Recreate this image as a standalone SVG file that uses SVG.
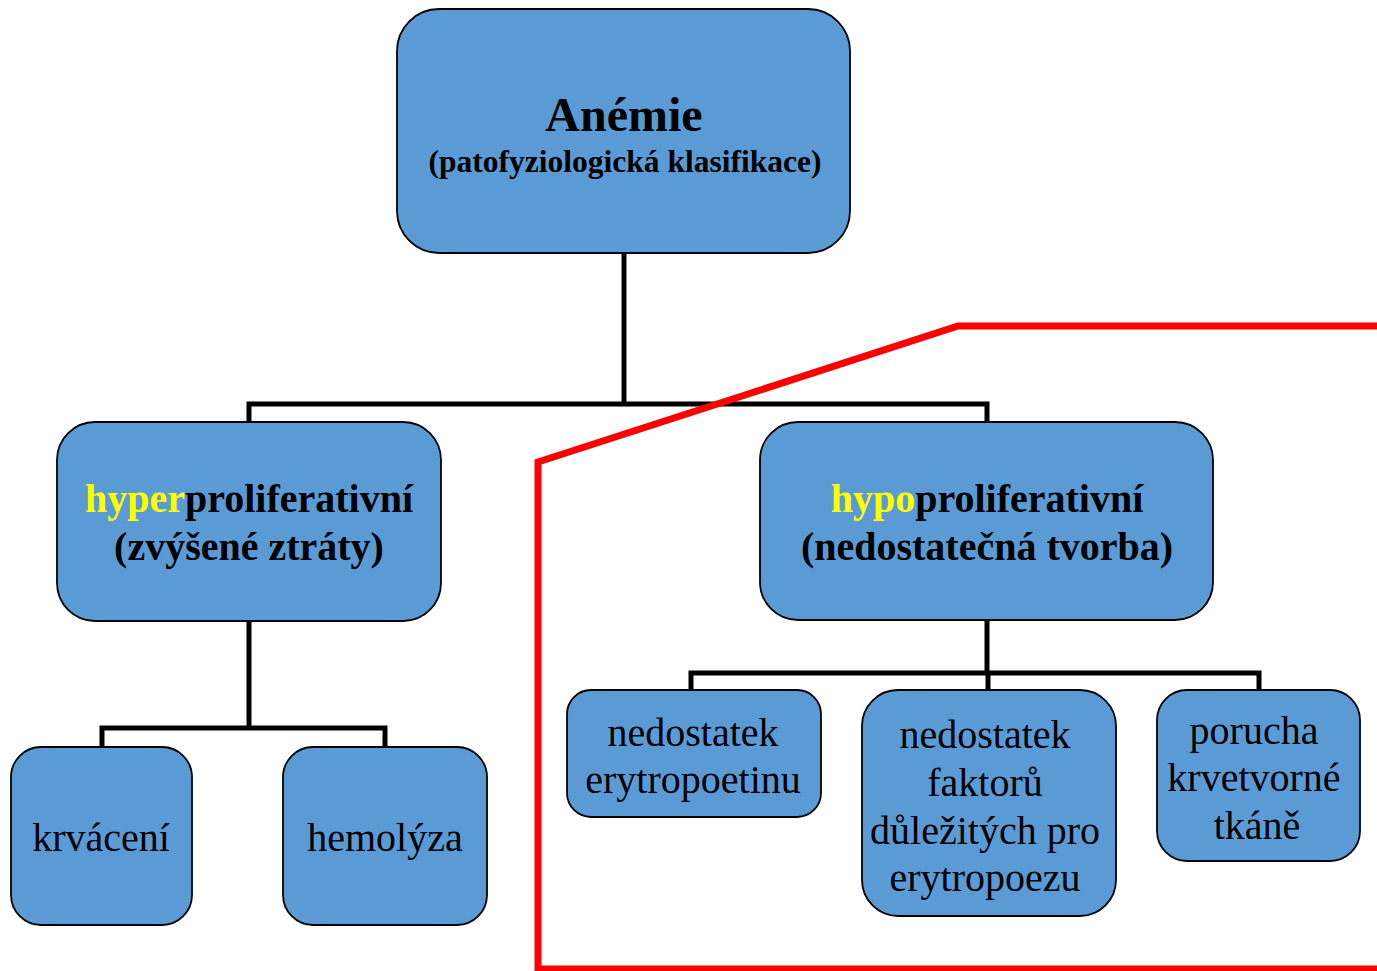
<svg xmlns="http://www.w3.org/2000/svg" width="1377" height="971" viewBox="0 0 1377 971">
<style>
.box{fill:#5B9BD5;stroke:#000;stroke-width:1.8}
.conn{fill:none;stroke:#000;stroke-width:5}
.t{font-family:"Liberation Serif","Times New Roman",serif;fill:#000;text-anchor:middle;font-size:40px}
.b{font-weight:bold}
.y{fill:#FFFF00}
.red{fill:none;stroke:#FF0000;stroke-width:7}
</style>
<rect width="1377" height="971" fill="#fff"/>
<g id="connectors">
<path class="conn" d="M624,253 V404 M249,422 V404 H987 V422"/>
<path class="conn" d="M249,621 V728 M102,747 V728 H385 V747"/>
<path class="conn" d="M987,620 V673 M691,690 V673 H1259 V690 M988,673 V690"/>
</g>
<g id="root">
<rect class="box" x="397" y="9" width="453" height="244" rx="42"/>
<text class="t b" x="624" y="131" style="font-size:48px">Anémie</text>
<text class="t b" x="625" y="172" style="font-size:31.5px">(patofyziologická klasifikace)</text>
</g>
<g id="hyper">
<rect class="box" x="57" y="422" width="384" height="199" rx="38"/>
<text class="t b" x="249" y="512"><tspan class="y">hyper</tspan>proliferativní</text>
<text class="t b" x="249" y="560">(zvýšené ztráty)</text>
</g>
<g id="hypo">
<rect class="box" x="760" y="422" width="453" height="198" rx="38"/>
<text class="t b" x="987" y="512"><tspan class="y">hypo</tspan>proliferativní</text>
<text class="t b" x="987" y="560">(nedostatečná tvorba)</text>
</g>
<g id="krvaceni">
<rect class="box" x="11" y="747" width="181" height="178" rx="30"/>
<text class="t" x="101" y="851">krvácení</text>
</g>
<g id="hemolyza">
<rect class="box" x="283" y="747" width="204" height="178" rx="30"/>
<text class="t" x="385" y="851">hemolýza</text>
</g>
<g id="epo">
<rect class="box" x="567" y="690" width="254" height="127" rx="24"/>
<text class="t" x="693" y="746">nedostatek</text>
<text class="t" x="693" y="793">erytropoetinu</text>
</g>
<g id="faktory">
<rect class="box" x="862" y="690" width="254" height="226" rx="36"/>
<text class="t" x="985" y="748">nedostatek</text>
<text class="t" x="985" y="796">faktorů</text>
<text class="t" x="985" y="844">důležitých pro</text>
<text class="t" x="985" y="891">erytropoezu</text>
</g>
<g id="porucha">
<rect class="box" x="1157" y="690" width="203" height="171" rx="30"/>
<text class="t" x="1254" y="744">porucha</text>
<text class="t" x="1254" y="791">krvetvorné</text>
<text class="t" x="1257" y="839">tkáně</text>
</g>
<g id="highlight">
<polyline class="red" points="1380,326 958,326 538,462 538,969 1380,969"/>
</g>
</svg>
